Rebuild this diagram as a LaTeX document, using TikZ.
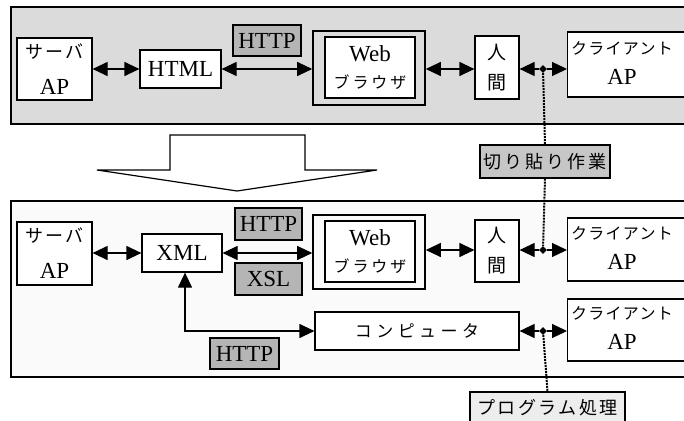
\documentclass[tikz,border=0pt]{standalone}
\usepackage{fontspec}
\setmainfont{Liberation Serif}
\newfontfamily\jp{Noto Sans CJK JP}
\usetikzlibrary{arrows.meta,shapes.geometric}
\newcommand{\jpt}[3]{{\jp\fontsize{#1}{#1}\selectfont\addfontfeatures{LetterSpace=#2}#3}}
\begin{document}
\begin{tikzpicture}[x=1pt,y=-1pt,
 box/.style={draw, line width=1.2pt, fill=white, inner sep=0pt},
 outerbox/.style={draw, line width=1.6pt, inner sep=0pt},
 lab/.style={draw, line width=1.2pt, inner sep=0pt},
 darklab/.style={lab, fill=gray!58},
 tip/.style={-{Triangle[length=15pt,width=14pt]}, line width=1.2pt},
 conn/.style={line width=1.2pt, {Triangle[length=15pt,width=14pt]}-{Triangle[length=15pt,width=14pt]}},
 jn/.style={diamond, fill=black, inner sep=0pt, minimum size=8pt},
 dots/.style={line width=2pt, densely dotted},
 lat/.style={font=\fontsize{23}{26}\selectfont},
]
\clip (0,0) rectangle (684,420);
% panels
\filldraw[fill=gray!28, line width=1.4pt] (11,7) rectangle (700,124);
\filldraw[fill=gray!4, line width=1.4pt] (11,201) rectangle (700,377);
% big arrow
\filldraw[fill=white, line width=1.2pt] (170,135) -- (305,135) -- (305,170) -- (377,170) -- (237,191) -- (97,170) -- (170,170) -- cycle;

% ---- top row
\node[box, minimum width=75pt, minimum height=62pt, align=center, font=\fontsize{23}{36}\selectfont] (srv1) at (54.5,69) {\jpt{18}{10}{サーバ}\\AP};
\node[box, lat, minimum width=81pt, minimum height=38pt] (html1) at (180.5,69) {HTML};
\node[darklab, lat, minimum width=68pt, minimum height=31pt] (http1) at (267,40.5) {HTTP};
\node[outerbox, minimum width=112pt, minimum height=74pt] (web1o) at (369,68) {};
\node[box, minimum width=90pt, minimum height=61pt, align=center, font=\fontsize{23}{27}\selectfont] (web1i) at (370,67.5) {Web\\\jpt{16}{18}{ブラウザ}};
\node[box, minimum width=44pt, minimum height=63pt, align=center, font=\jp\fontsize{19}{30}\selectfont] (hum1) at (497,67.5) {人\\間};
\node[box, anchor=west, minimum width=140pt, minimum height=65pt] (cli1) at (567,64.5) {};
\node[align=center, font=\fontsize{23}{30}\selectfont] (cli1t) at (622,63) {\jpt{16}{8}{クライアント}\\AP};
\node[jn] (j1) at (543,69) {};

% middle label
\node[lab, fill=gray!45, minimum width=130pt, minimum height=33pt] (kiri) at (545,161.5) {\jpt{18}{16}{切り貼り作業}};

% ---- bottom
\node[box, minimum width=75pt, minimum height=63pt, align=center, font=\fontsize{23}{36}\selectfont] (srv2) at (54.5,253.5) {\jpt{18}{10}{サーバ}\\AP};
\node[box, lat, minimum width=80pt, minimum height=38pt] (xml) at (182,253) {XML};
\node[darklab, lat, minimum width=67pt, minimum height=32pt] (http2) at (268.5,224) {HTTP};
\node[darklab, lat, minimum width=67pt, minimum height=32pt] (xsl) at (268.5,279) {XSL};
\node[outerbox, minimum width=112pt, minimum height=74pt] (web2o) at (369,252) {};
\node[box, minimum width=90pt, minimum height=61pt, align=center, font=\fontsize{23}{27}\selectfont] (web2i) at (370,251.5) {Web\\\jpt{16}{18}{ブラウザ}};
\node[box, minimum width=44pt, minimum height=62pt, align=center, font=\jp\fontsize{19}{30}\selectfont] (hum2) at (497,251) {人\\間};
\node[box, anchor=west, minimum width=140pt, minimum height=63pt] (cli2) at (567,249.5) {};
\node[align=center, font=\fontsize{23}{30}\selectfont] (cli2t) at (622,248) {\jpt{16}{8}{クライアント}\\AP};
\node[jn] (j2) at (543,250) {};

\node[box, minimum width=204pt, minimum height=38pt] (comp) at (417,331) {\jpt{17}{26}{コンピュータ}};
\node[box, anchor=west, minimum width=140pt, minimum height=62pt] (cli3) at (567,330) {};
\node[align=center, font=\fontsize{23}{30}\selectfont] (cli3t) at (622,328.5) {\jpt{16}{8}{クライアント}\\AP};
\node[jn] (j3) at (543,331) {};
\node[darklab, lat, minimum width=69pt, minimum height=31pt] (http3) at (244.5,353.5) {HTTP};
\node[lab, fill=gray!14, minimum width=155pt, minimum height=31pt] (prog) at (547.5,407.5) {\jpt{18}{14}{プログラム処理}};

% dotted lines
\draw[dots] (j1) -- (kiri.north);
\draw[dots] (kiri.south) -- (j2);
\draw[dots] (j3) -- (prog.north);

% connectors top
\draw[conn] (srv1.east) -- (html1.west);
\draw[conn] (html1.east) -- (html1.east -| web1o.west);
\draw[conn] (web1o.east |- j1) -- (hum1.west |- j1);
\draw[tip] (j1) -- (j1 -| hum1.east);
\draw[tip] (j1) -- (j1 -| cli1.west);

% connectors bottom
\draw[conn] (srv2.east |- xml) -- (xml.west);
\draw[conn] (xml.east) -- (xml.east -| web2o.west);
\draw[conn] (web2o.east |- j2) -- (hum2.west |- j2);
\draw[tip] (j2) -- (j2 -| hum2.east);
\draw[tip] (j2) -- (j2 -| cli2.west);
\draw[conn] ([xshift=3pt]xml.south) |- (comp.west);
\draw[tip] (j3) -- (j3 -| comp.east);
\draw[tip] (j3) -- (j3 -| cli3.west);
\end{tikzpicture}
\end{document}
